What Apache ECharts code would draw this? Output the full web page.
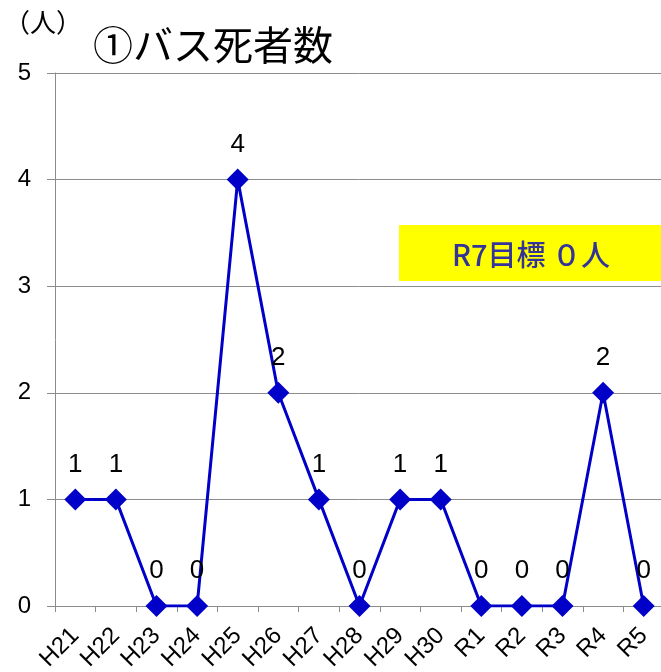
<!DOCTYPE html>
<html>
<head>
<meta charset="utf-8">
<script src="https://cdn.jsdelivr.net/npm/echarts@6/dist/echarts.min.js"></script>
<style>
  html, body { margin: 0; padding: 0; background: #fff; }
  #busDeath { width: 661px; height: 672px; }
</style>
</head>
<body>
<div id="busDeath"></div>
<script>
// 年度
const years = ['H21', 'H22', 'H23', 'H24', 'H25', 'H26', 'H27', 'H28', 'H29', 'H30', 'R1', 'R2', 'R3', 'R4', 'R5'];
// バス死者数（人）
const deaths = [1, 1, 0, 0, 4, 2, 1, 0, 1, 1, 0, 0, 0, 2, 0];
const yTicks = [0, 1, 2, 3, 4, 5];

const FONT = '"Noto Sans CJK JP", "Noto Sans", sans-serif';
const LATIN = '"Liberation Sans", Arial, sans-serif';
const myChart = echarts.init(document.getElementById('busDeath'));
const chartOption = {
  animation: false,
  textStyle: { fontFamily: FONT },
  grid: {
    left: 55,
    right: -3,
    top: 73,
    bottom: 66,
    containLabel: false,
    outerBoundsMode: 'none'
  },
  graphic: [
    { type: 'text', left: 4, top: 9, style: { text: '（人）', font: '26px ' + FONT, fill: '#000' } },
    { type: 'text', left: 93, top: 25, style: { text: '①バス死者数', font: '40px ' + FONT, fill: '#000' } },
    { type: 'rect', left: 399, top: 225, shape: { width: 262, height: 56 }, style: { fill: '#ffff00' } },
    { type: 'text', x: 531, y: 255, style: { text: 'R7目標 ０人', font: '500 29px ' + FONT, fill: '#333399', align: 'center', verticalAlign: 'middle' } }
  ],
  xAxis: {
    type: 'category',
    data: years,
    boundaryGap: true,
    axisLine: { lineStyle: { color: '#8c8c8c', width: 1 } },
    axisTick: { show: true, interval: 0, length: 6, lineStyle: { color: '#8c8c8c' } },
    axisLabel: { interval: 0, rotate: 45, color: '#000', margin: 26, fontSize: 24, fontFamily: LATIN }
  },
  yAxis: {
    type: 'value',
    min: 0,
    max: 5,
    interval: 1,
    axisLine: { show: true, lineStyle: { color: '#8c8c8c' } },
    axisTick: { show: true, length: 8, lineStyle: { color: '#8c8c8c' } },
    axisLabel: {
      fontSize: 24, color: '#000', margin: 24, fontFamily: LATIN,
      formatter: v => (yTicks.includes(v) ? String(v) : '')
    },
    splitLine: { lineStyle: { color: '#8c8c8c', width: 1 } }
  },
  series: [
    {
      name: 'バス死者数',
      type: 'line',
      data: deaths,
      symbol: 'diamond',
      symbolSize: 22,
      itemStyle: { color: '#0000c8' },
      lineStyle: { color: '#0000c8', width: 3 },
      label: {
        show: true,
        position: 'top',
        distance: 11,
        fontSize: 26,
        color: '#000',
        fontFamily: LATIN
      }
    }
  ]
};
myChart.setOption(chartOption);
</script>
</body>
</html>
